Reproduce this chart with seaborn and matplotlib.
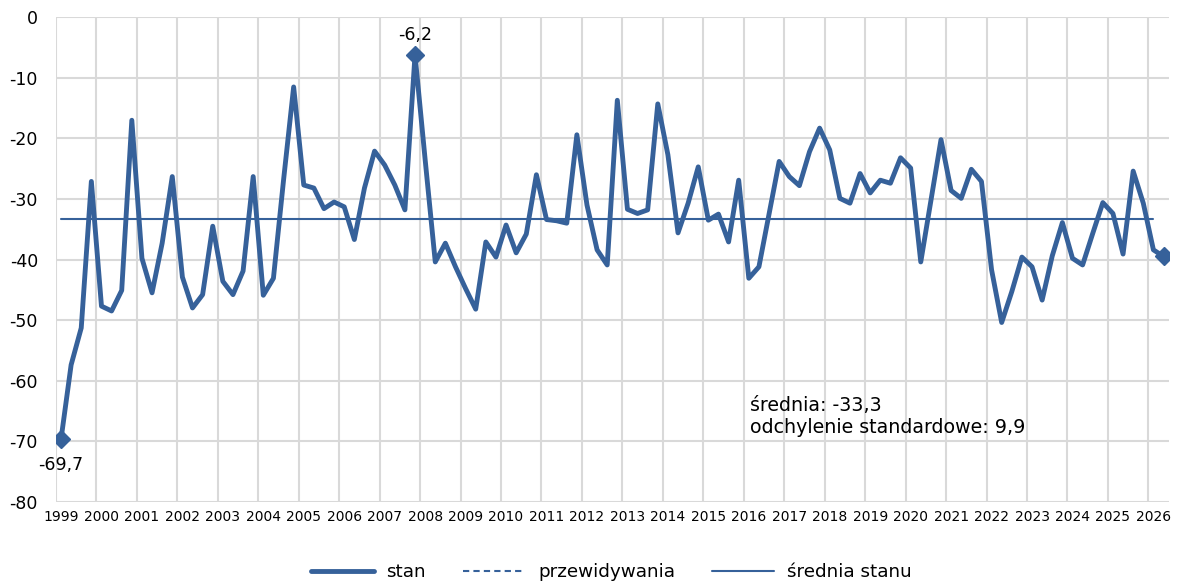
import pandas as pd
import numpy as np
import matplotlib.pyplot as plt
from matplotlib.lines import Line2D
import seaborn as sns

# quarterly values, 1999Q1 .. 2026Q2
years = list(range(1999, 2027))
stan = [-69.7, -57.4, -51.3, -27.1,
        -47.7, -48.5, -45.1, -17.0,
        -39.8, -45.5, -37.3, -26.3,
        -42.9, -48.0, -45.8, -34.5,
        -43.6, -45.8, -41.9, -26.3,
        -45.9, -43.1, -26.9, -11.5,
        -27.7, -28.2, -31.6, -30.5,
        -31.3, -36.7, -28.2, -22.1,
        -24.4, -27.7, -31.8, -6.2,
        -23.5, -40.4, -37.3, -41.2,
        -44.8, -48.2, -37.1, -39.6,
        -34.3, -38.9, -35.8, -26.0,
        -33.4, -33.6, -34.0, -19.4,
        -31.0, -38.4, -40.9, -13.7,
        -31.7, -32.4, -31.8, -14.3,
        -22.7, -35.6, -30.7, -24.7,
        -33.5, -32.5, -37.1, -26.9,
        -43.1, -41.2, -32.5, -23.8,
        -26.3, -27.8, -22.2, -18.3,
        -21.9, -29.9, -30.7, -25.8,
        -29.0, -26.9, -27.4, -23.2,
        -24.9, -40.4, -30.3, -20.2,
        -28.6, -29.9, -25.1, -27.1,
        -41.7, -50.4, -45.3, -39.6,
        -41.2, -46.7, -39.4, -33.9,
        -39.8, -40.9, -35.7, -30.6,
        -32.4, -39.1, -25.4, -30.7,
        -38.4, -39.5]
mean_val = -33.3
std_val = 9.9

color = "#36619A"
df = pd.DataFrame({"x": np.arange(len(stan)), "stan": stan})

sns.set_style("white")
plt.rcParams["font.family"] = ["DejaVu Sans"]
plt.rcParams["axes.unicode_minus"] = False
plt.rcParams["text.color"] = "black"
plt.rcParams["xtick.color"] = "black"
plt.rcParams["ytick.color"] = "black"

fig = plt.figure(figsize=(11.78, 5.87), dpi=100)
ax = fig.add_axes([0.0475, 0.1453, 0.9445, 0.8252])

sns.lineplot(data=df, x="x", y="stan", ax=ax, color=color, linewidth=3.5, legend=False)

# mean line over the historical part
ax.plot([0, len(stan) - 2], [mean_val, mean_val], color=color, linewidth=1.5)

# markers on first, max and last point
imax = int(np.argmax(stan))
for i in [0, imax, len(stan) - 1]:
    ax.plot(i, stan[i], marker="D", markersize=9, color=color)
ax.annotate("-69,7", (0, stan[0]), xytext=(0, -12), textcoords="offset points",
            ha="center", va="top", fontsize=12.5)
ax.annotate(f"{stan[imax]:.1f}".replace(".", ","), (imax, stan[imax]), xytext=(0, 8),
            textcoords="offset points", ha="center", va="bottom", fontsize=12.5)

ax.text(0.6236, 0.176, f"średnia: {mean_val:.1f}\nodchylenie standardowe: {std_val:.1f}".replace(".", ","),
        transform=ax.transAxes, fontsize=13.7, va="center", ha="left", linespacing=1.15)

ax.set_xlim(-0.5, len(stan) - 0.5)
ax.set_ylim(-80, 0)
ax.set_yticks(range(-80, 1, 10))
ax.set_xticks([4 * k for k in range(len(years))])
ax.set_xticklabels([str(y) for y in years])
ax.set_xticks([-0.5 + 4 * k for k in range(len(years))], minor=True)
ax.grid(False)
ax.grid(axis="y", which="major", color="#d9d9d9", linewidth=1.5)
ax.grid(axis="x", which="minor", color="#d9d9d9", linewidth=1.5)
ax.tick_params(axis="y", which="both", length=0, pad=13, labelsize=12.5)
ax.tick_params(axis="x", which="both", length=0, pad=6, labelsize=10)
ax.set_xlabel("")
ax.set_ylabel("")
for s in ax.spines.values():
    s.set_visible(False)
ax.set_axisbelow(True)

handles = [Line2D([], [], color=color, linewidth=3.5),
           Line2D([], [], color=color, linewidth=1.5, linestyle=(0, (3, 2))),
           Line2D([], [], color=color, linewidth=1.5)]
fig.legend(handles, ["stan", "przewidywania", "średnia stanu"], loc="center",
           bbox_to_anchor=(0.519, 0.025), ncol=3, frameon=False, fontsize=13.2,
           handlelength=3.4, columnspacing=2.0, handletextpad=0.7)

fig.savefig("out.png", dpi=100)
